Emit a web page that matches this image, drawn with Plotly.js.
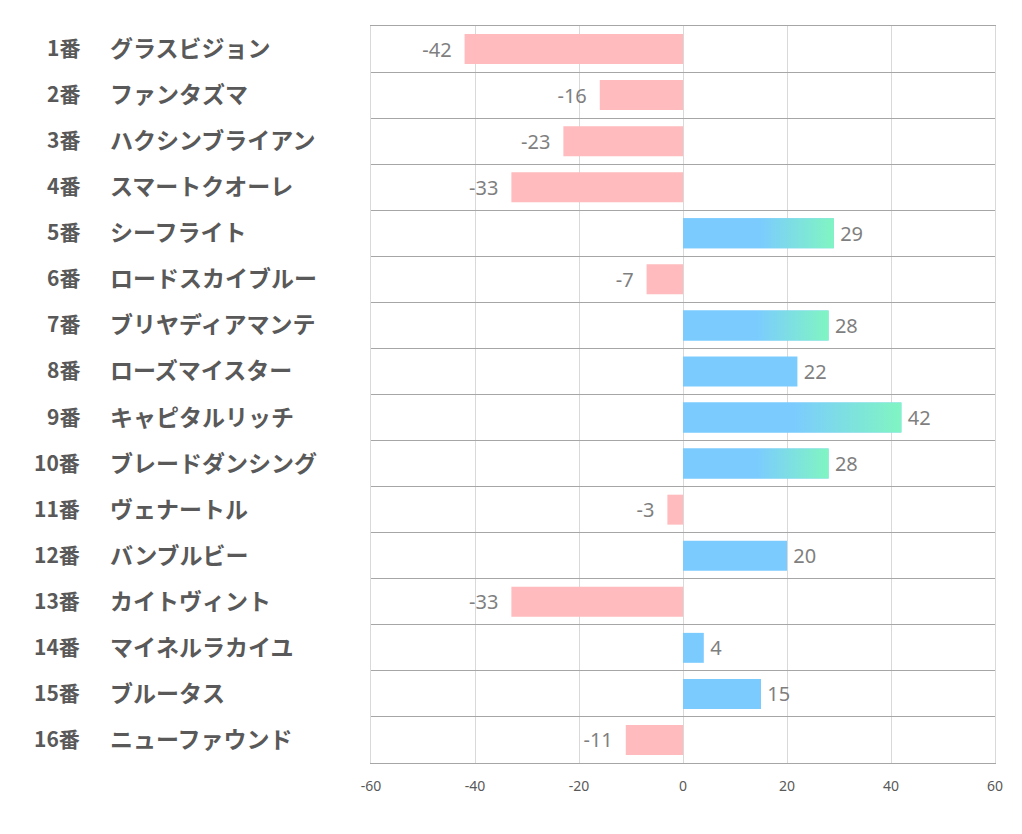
<!DOCTYPE html>
<html><head><meta charset="utf-8">
<script src="https://cdn.plot.ly/plotly-3.0.1.min.js"></script>
<style>body{margin:0;background:#fff}#chart{width:1022px;height:834px}</style>
</head><body><div id="chart"></div>
<script>
const numbers = ["1番","2番","3番","4番","5番","6番","7番","8番","9番","10番","11番","12番","13番","14番","15番","16番"];
const names = ["グラスビジョン","ファンタズマ","ハクシンブライアン","スマートクオーレ","シーフライト","ロードスカイブルー","ブリヤディアマンテ","ローズマイスター","キャピタルリッチ","ブレードダンシング","ヴェナートル","バンブルビー","カイトヴィント","マイネルラカイユ","ブルータス","ニューファウンド"];
const values = [-42,-16,-23,-33,29,-7,28,22,42,28,-3,20,-33,4,15,-11];
const gradientHorses = ["5番","7番","9番","10番"];
const xTicks = [-60,-40,-20,0,20,40,60];

const PINK = "#FFBBBD", BLUE = "#7BCBFF", GREEN = "#80F5C2";
const BW = 0.65;
const idx = values.map((v,i)=>i);

const traces = [{
  type:"bar", orientation:"h", y:idx, x:values, width:BW,
  marker:{color:values.map(v=>v<0?PINK:BLUE), line:{width:0}},
  text:values.map(v=>v<0?(v+"\u2002"):("\u2009"+v)), textposition:"outside", cliponaxis:false,
  textfont:{family:"Noto Sans", size:20, color:"#7f7f7f"},
  hoverinfo:"x", showlegend:false
}];
values.forEach((v,i)=>{
  if(!gradientHorses.includes(numbers[i])) return;
  traces.push({
    type:"scatter", mode:"lines", fill:"toself",
    x:[0,v,v,0,0], y:[i-BW/2,i-BW/2,i+BW/2,i+BW/2,i-BW/2],
    line:{width:0, color:"rgba(0,0,0,0)"},
    fillgradient:{type:"horizontal", colorscale:[[0,BLUE],[0.5,BLUE],[1,GREEN]]},
    hoverinfo:"skip", showlegend:false
  });
});

const annotations = [];
idx.forEach(i=>{
  annotations.push({xref:"paper", yref:"y", x:(82-371)/624, y:i, yshift:2, text:"<b>"+numbers[i]+"</b>", showarrow:false, xanchor:"right", yanchor:"middle",
    font:{family:"Noto Sans CJK JP", size:21, color:"#595959"}});
  annotations.push({xref:"paper", yref:"y", x:(108-371)/624, y:i, yshift:2, text:"<b>"+names[i]+"</b>", showarrow:false, xanchor:"left", yanchor:"middle",
    font:{family:"Noto Sans CJK JP", size:23, color:"#595959"}});
});

const layout = {
  width:1022, height:834,
  margin:{l:371, r:27, t:26, b:71},
  paper_bgcolor:"#fff", plot_bgcolor:"#fff",
  showlegend:false,
  xaxis:{range:[-60,60], tickvals:xTicks, ticktext:xTicks.map(String), showgrid:true, gridcolor:"#d9d9d9", gridwidth:1,
    zeroline:false, showline:true, mirror:true, linecolor:"#a6a6a6", linewidth:1, ticks:"", ticklabelstandoff:10,
    tickfont:{family:"Noto Sans", size:14, color:"#595959"}, fixedrange:true},
  yaxis:{range:[15.5,-0.5], tickvals:idx.concat([16]).map(k=>k-0.5), showticklabels:false, showgrid:true, gridcolor:"#a6a6a6",
    gridwidth:1, zeroline:false, showline:true, mirror:true, linecolor:"#d9d9d9", linewidth:1, ticks:"", fixedrange:true},
  annotations:annotations
};
Plotly.newPlot("chart", traces, layout, {displayModeBar:false, staticPlot:true});
</script></body></html>
